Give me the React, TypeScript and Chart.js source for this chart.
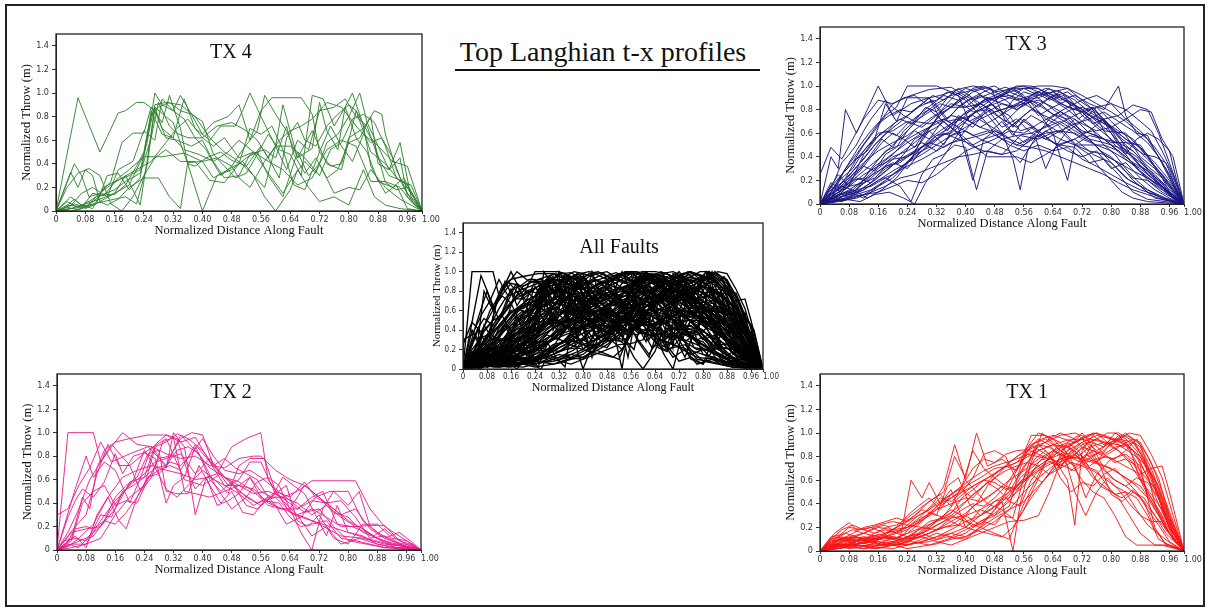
import React, { useEffect, useRef } from "react";
import { Chart, registerables } from "chart.js";

Chart.register(...registerables);

// ---------- axes ----------
const X_TICKS = [0, 0.08, 0.16, 0.24, 0.32, 0.4, 0.48, 0.56, 0.64, 0.72, 0.8, 0.88, 0.96, 1];
const X_TICK_LABELS = ["0", "0.08", "0.16", "0.24", "0.32", "0.40", "0.48", "0.56", "0.64", "0.72", "0.80", "0.88", "0.96", "1.00"];
const Y_TICKS = [0, 0.2, 0.4, 0.6, 0.8, 1.0, 1.2, 1.4];
const Y_TICK_LABELS = ["0", "0.2", "0.4", "0.6", "0.8", "1.0", "1.2", "1.4"];
const X_RANGE = [0, 1];
const Y_RANGE = [0, 1.5];

const MAIN_TITLE = "Top Langhian t-x profiles";
const X_TITLE = "Normalized Distance Along Fault";
const Y_TITLE = "Normalized Throw (m)";

// ---------- data: each profile = [x0, y0, x1, y1, ...] ----------
const TX4_PROFILES: number[][] = [
  [0,0,.06,.96,.12,.5,.14,.63,.17,.83,.19,.85,.22,.92,.24,.92,.27,.85,.3,.62,.33,.6,.37,.55,.4,.6,.43,.42,.47,.5,.5,.6,.54,.5,.58,.42,.62,.35,.66,.22,.7,.28,.74,.52,.78,.6,.82,.55,.86,.25,.9,.25,.94,.2,.97,.08,1,0],
  [0,0,.04,.33,.06,.2,.08,.35,.1,.3,.12,.08,.16,.15,.19,.3,.21,.18,.23,.05,.25,.45,.27,.88,.29,.7,.32,.62,.35,.95,.38,.7,.42,.6,.45,.72,.49,.72,.51,.85,.53,1,.56,.8,.6,.55,.62,.9,.66,.45,.7,.68,.74,.4,.78,.35,.82,.85,.86,.5,.9,.4,.94,.25,.97,.22,1,0],
  [0,0,.05,.06,.08,.03,.11,.12,.14,.14,.16,.14,.19,.22,.22,.38,.24,.5,.26,.82,.28,.88,.31,.92,.34,.85,.37,.82,.4,.65,.43,.75,.47,.8,.5,.9,.53,.6,.56,.85,.59,.96,.64,.96,.67,.96,.7,.82,.72,.5,.75,.38,.78,.4,.8,.62,.84,.7,.87,.85,.89,.82,.9,.65,.93,.35,.96,.15,1,0],
  [0,0,.04,.02,.07,.03,.1,.15,.13,.13,.17,.28,.2,.35,.24,.46,.29,.46,.35,.49,.4,.42,.44,.45,.48,.38,.5,.28,.53,.2,.57,.42,.6,.55,.63,.35,.66,.6,.69,.52,.72,.85,.76,.88,.79,.95,.82,.8,.85,.72,.88,.45,.91,.3,.95,.25,1,0],
  [0,0,.03,.03,.06,.01,.09,.04,.12,.08,.14,.05,.17,.1,.2,.2,.24,.28,.28,.28,.31,.12,.34,.02,.36,.41,.4,.42,.43,.28,.47,.35,.51,.42,.54,.3,.57,.12,.6,0,.64,.18,.66,.35,.69,.2,.72,.08,.76,.12,.8,.05,.84,.35,.87,.12,.9,.05,.94,.02,1,0],
  [0,0,.05,.4,.07,.3,.09,.12,.12,.15,.15,.25,.18,.58,.21,.66,.24,.66,.26,.88,.29,.75,.31,.98,.34,.7,.36,.4,.38,.38,.41,.45,.45,.5,.48,.43,.52,.38,.56,.55,.58,.45,.61,.28,.63,.62,.66,.75,.68,.6,.71,.55,.74,.72,.77,.82,.8,.9,.82,.85,.86,.62,.88,.55,.92,.42,.96,.38,1,0],
  [0,0,.03,.05,.06,.04,.09,.05,.12,.13,.16,.18,.19,.25,.23,.32,.26,.62,.28,.92,.31,.72,.33,.66,.36,.62,.4,.62,.43,.55,.46,.62,.5,.45,.54,.5,.58,.32,.62,.15,.65,.3,.68,.42,.71,.32,.74,.58,.77,.65,.8,.8,.83,1,.85,.75,.88,.55,.91,.35,.94,.45,.96,.12,1,0],
  [0,0,.04,.12,.07,.05,.1,.02,.13,.2,.16,.25,.2,.3,.23,.35,.25,.6,.27,1,.29,.9,.32,.85,.35,.78,.38,.62,.41,.52,.45,.3,.48,.38,.51,.52,.55,.68,.57,.98,.6,.82,.63,.68,.66,.45,.7,.53,.72,.92,.74,.68,.77,.52,.79,.88,.82,.62,.85,.5,.88,.25,.92,.2,.95,.28,1,0],
  [0,0,.03,.01,.07,.15,.1,.2,.14,.12,.17,.35,.21,.42,.24,.68,.27,.6,.29,.95,.32,.85,.34,.98,.37,.82,.4,.76,.43,.48,.46,.38,.49,.28,.52,.32,.55,.48,.58,.65,.61,.52,.64,.48,.67,.3,.7,.98,.73,.95,.76,.72,.79,.88,.81,1,.84,.72,.86,.38,.9,.15,.93,.22,.96,.02,1,0],
  [0,0,.02,.02,.05,.1,.08,.02,.11,.06,.14,.3,.17,.32,.2,.18,.23,.28,.26,.85,.29,.65,.32,.62,.35,.52,.39,.48,.43,.42,.46,.28,.5,.3,.53,.48,.57,.52,.6,.45,.63,.72,.65,.48,.68,.32,.71,.45,.74,.28,.77,.35,.8,.58,.83,.62,.86,.8,.88,.4,.91,.35,.94,.58,.97,.12,1,0],
  [0,0,.03,.2,.06,.32,.09,.36,.12,.3,.15,.06,.18,0,.21,.12,.24,.3,.27,.45,.3,.52,.34,.42,.38,.42,.42,.26,.46,.24,.5,.4,.53,.7,.56,.65,.59,.72,.62,.52,.65,.22,.68,.18,.72,.5,.75,.72,.78,.55,.81,.42,.84,.65,.87,.58,.9,.24,.93,.18,.96,.2,1,0],
  [0,0,.04,.02,.08,.06,.12,.1,.16,.15,.2,.22,.24,.48,.27,.9,.3,.92,.34,.9,.38,.8,.42,.62,.46,.5,.5,.42,.54,.3,.57,.2,.6,.55,.64,.55,.68,.45,.72,.3,.75,.52,.78,.58,.81,.78,.84,.82,.87,.75,.9,.55,.93,.28,.96,.22,1,0],
  [0,0,.03,.08,.06,.03,.1,.1,.14,.2,.18,.28,.22,.35,.26,.42,.3,.58,.33,.7,.36,.78,.4,.62,.44,.72,.48,.75,.52,.68,.55,.6,.58,.45,.61,.6,.64,.68,.67,.72,.7,.78,.74,.92,.78,.88,.82,.72,.86,.58,.89,.62,.92,.45,.95,.2,.98,.05,1,0],
  [0,0,.05,0,.09,.05,.13,.08,.16,.1,.19,.12,.22,.06,.25,.4,.27,.88,.3,.8,.32,.75,.36,.4,.4,0,.44,.3,.48,.35,.52,.45,.55,.5,.58,.3,.62,.12,.66,.5,.69,.3,.72,.4,.76,.15,.8,.2,.83,.18,.86,.35,.9,.2,.94,.1,1,0],
];

const TX3_PROFILES: number[][] = [
  [0,0,.03,.4,.05,.3,.07,.8,.1,.6,.13,.8,.16,1,.2,.75,.25,.85,.3,.9,.35,.7,.42,.75,.5,.6,.58,.8,.65,.7,.72,.55,.8,.45,.88,.3,.94,.15,1,0],
  [0,.25,.03,.48,.06,.38,.09,.55,.12,.72,.16,.88,.2,.85,.25,.92,.3,.97,.36,.99,.42,.88,.48,.95,.54,.98,.6,.98,.66,.85,.72,.78,.78,.62,.84,.6,.9,.4,.95,.2,1,0],
  [0,0,.04,.1,.08,.18,.12,.28,.16,.38,.2,.5,.24,.62,.28,.75,.32,.85,.36,.92,.4,.95,.44,.98,.48,.92,.52,.98,.56,1,.6,.95,.64,.9,.68,.82,.72,.78,.76,.65,.8,.55,.84,.45,.88,.32,.92,.2,.96,.08,1,0],
  [0,0,.05,.05,.1,.12,.14,.3,.18,.45,.22,.5,.26,.62,.3,.55,.34,.72,.38,.65,.42,.2,.45,.55,.5,.6,.55,.72,.6,.62,.65,.5,.7,.55,.75,.42,.8,.35,.85,.2,.9,.12,.95,.05,1,0],
  [0,0,.03,.12,.07,.2,.11,.35,.15,.5,.19,.62,.23,.72,.27,.82,.31,.88,.35,.72,.39,.85,.43,.92,.47,.98,.51,.7,.55,.82,.59,.95,.63,.88,.67,.92,.71,.72,.75,.82,.79,.68,.83,.48,.87,.4,.91,.25,.95,.12,1,0],
  [0,0,.04,.02,.08,.05,.12,.08,.16,.15,.2,.25,.24,.35,.28,.48,.32,.58,.36,.65,.4,.78,.44,.85,.48,.9,.52,.95,.56,.98,.6,.92,.64,.95,.68,.88,.72,.8,.76,.72,.8,.65,.84,.55,.88,.48,.92,.35,.96,.2,1,0],
  [0,0,.05,.25,.08,.15,.12,.42,.15,.55,.18,.85,.21,.7,.24,.9,.3,.9,.33,.72,.37,.62,.41,.5,.45,.45,.5,.42,.55,.58,.6,.55,.65,.62,.7,.6,.75,.52,.8,.35,.84,.22,.88,.15,.92,.05,1,0],
  [0,0,.04,.18,.08,.32,.12,.45,.16,.6,.2,.62,.24,.7,.28,.65,.32,.75,.36,.82,.4,.82,.44,.85,.48,.78,.52,.82,.56,.88,.6,.86,.64,.76,.68,.72,.72,.62,.76,.58,.8,.52,.84,.52,.88,.5,.92,.32,.96,.18,1,0],
  [0,0,.03,.05,.06,.08,.09,.1,.12,.18,.15,.22,.18,.3,.21,.35,.24,.4,.27,.45,.3,.55,.33,.62,.36,.68,.39,.72,.42,.82,.45,.88,.48,.9,.51,.95,.54,1,.58,1,.62,.95,.66,.9,.7,.82,.74,.75,.78,.68,.82,.6,.86,.5,.9,.38,.94,.25,.97,.12,1,0],
  [0,0,.03,.02,.07,.05,.11,.12,.15,.2,.19,.3,.23,.42,.26,.55,.29,.6,.32,.72,.35,.8,.38,.88,.41,.92,.44,.85,.47,.8,.5,.72,.53,.6,.56,.52,.59,.58,.62,.3,.65,.5,.68,.62,.72,.7,.76,.82,.8,.7,.84,.58,.88,.4,.92,.3,.96,.15,1,0],
  [0,0,.02,.05,.05,.2,.08,.35,.11,.5,.14,.62,.17,.72,.2,.85,.23,.9,.26,.92,.29,.85,.32,.88,.35,.95,.38,.92,.41,.7,.44,.75,.47,.85,.5,.92,.53,.98,.56,.92,.59,.82,.62,.72,.65,.68,.68,.58,.71,.48,.74,.42,.77,.3,.8,.2,.83,.1,.86,.05,.9,.02,.95,.01,1,0],
  [0,0,.04,.08,.08,.15,.12,.25,.16,.32,.2,.38,.24,.4,.28,.48,.32,.55,.36,.62,.4,.72,.44,.8,.48,.85,.52,.9,.56,.98,.6,1,.64,1,.68,.98,.72,.92,.76,.85,.8,.78,.84,.7,.87,.62,.9,.55,.93,.4,.96,.22,1,0],
  [0,0,.03,.1,.06,.25,.09,.35,.12,.5,.15,.62,.18,.75,.21,.82,.24,1,.27,1,.32,1,.36,.95,.4,.88,.44,.75,.48,.6,.52,.5,.56,.45,.6,.5,.64,.45,.68,.48,.72,.38,.76,.32,.8,.25,.84,.18,.88,.12,.92,.08,.96,.03,1,0],
  [0,0,.04,.05,.08,.12,.12,.2,.16,.28,.2,.35,.24,.3,.27,.42,.3,.5,.33,.58,.36,.68,.39,.75,.42,.8,.45,.88,.48,.92,.51,.88,.54,.8,.57,.85,.6,.92,.63,.98,.66,.9,.69,.85,.72,.8,.75,.82,.78,.7,.81,.6,.84,.5,.87,.42,.9,.3,.93,.2,.96,.1,1,0],
  [0,0,.02,.02,.05,.08,.09,.12,.13,.05,.17,.12,.21,.22,.25,.38,.28,.55,.31,.68,.34,.82,.37,.92,.4,.98,.43,.95,.46,.88,.49,.8,.52,.75,.55,.62,.58,.65,.62,.55,.66,.5,.7,.48,.74,.35,.78,.38,.82,.25,.86,.1,.9,.04,.95,.02,1,0],
  [0,0,.03,.15,.06,.1,.1,.22,.14,.18,.18,.32,.22,.35,.26,.45,.3,.62,.34,.5,.38,.72,.42,.65,.46,.8,.5,.72,.54,.65,.58,.75,.62,.68,.66,.6,.7,.72,.74,.6,.78,.55,.82,.52,.86,.45,.9,.32,.94,.22,.97,.05,1,0],
  [0,0,.03,.05,.06,.12,.09,.25,.12,.32,.15,.28,.18,.42,.21,.48,.24,.62,.27,.72,.3,.78,.33,.85,.36,.82,.39,.9,.42,.98,.45,1,.48,.96,.51,.99,.54,.95,.57,.88,.6,.82,.63,.9,.66,.95,.69,.88,.72,.75,.75,.68,.78,.72,.81,.62,.84,.48,.87,.35,.9,.28,.93,.18,.96,.08,1,0],
  [0,0,.04,.02,.08,.1,.12,.05,.16,.15,.2,.22,.24,.35,.28,.45,.32,.58,.36,.6,.4,.7,.44,.82,.48,.9,.52,.92,.56,.88,.6,.9,.64,.95,.68,.98,.72,.88,.76,.92,.8,.85,.84,.72,.88,.62,.92,.48,.96,.3,1,0],
  [0,0,.03,.08,.07,.22,.1,.38,.13,.45,.16,.58,.19,.65,.22,.72,.25,.68,.28,.78,.31,.85,.34,.92,.38,.88,.42,.78,.46,.8,.5,.65,.54,.72,.58,.6,.62,.55,.66,.62,.7,.5,.74,.45,.78,.42,.82,.35,.86,.28,.9,.22,.94,.15,.97,.08,1,0],
  [0,0,.04,.05,.08,.08,.12,.12,.16,.2,.2,.25,.24,.32,.28,.38,.32,.45,.36,.52,.4,.55,.44,.58,.48,.62,.52,.55,.56,.5,.6,.58,.64,.65,.68,.72,.72,.78,.76,.82,.8,.85,.84,.8,.88,.7,.91,.62,.94,.45,.97,.25,1,0],
  [0,0,.02,.03,.05,.1,.08,.18,.11,.3,.14,.42,.17,.55,.2,.48,.23,.62,.26,.7,.29,.82,.32,.78,.35,.9,.38,.98,.41,.92,.44,.82,.47,.72,.5,.6,.53,.38,.55,.12,.57,.45,.6,.6,.63,.72,.66,.78,.69,.72,.72,.6,.75,.62,.78,.5,.81,.42,.84,.3,.87,.2,.9,.12,.94,.05,1,0],
  [0,0,.03,.02,.07,.04,.11,.02,.15,.08,.19,.1,.23,.05,.26,0,.29,.18,.32,.32,.35,.45,.38,.6,.41,.75,.44,.8,.47,.85,.5,.75,.53,.88,.56,.95,.59,.92,.62,.85,.65,.78,.68,.7,.71,.62,.74,.55,.77,.45,.8,.4,.83,.3,.86,.22,.9,.2,.94,.12,.97,.05,1,0],
  [0,0,.04,.1,.08,.2,.11,.28,.14,.4,.17,.52,.2,.6,.23,.55,.26,.48,.29,.62,.32,.7,.35,.62,.38,.75,.41,.7,.44,.65,.47,.62,.5,.7,.53,.58,.56,.72,.6,.62,.64,.52,.68,.45,.72,.4,.76,.45,.8,.3,.84,.35,.88,.22,.92,.12,.96,.05,1,0],
  [0,0,.03,.05,.06,.02,.1,.08,.14,.12,.18,.2,.22,.3,.26,.42,.3,.48,.34,.6,.38,.55,.42,.7,.46,.78,.5,.85,.54,.82,.58,.9,.62,.95,.66,.88,.7,.92,.74,.85,.78,.8,.82,1,.84,.75,.87,.6,.9,.58,.92,.45,.95,.3,.98,.1,1,0],
  [0,0,.04,.1,.08,.22,.12,.35,.16,.45,.2,.52,.24,.58,.27,.65,.3,.72,.33,.78,.36,.85,.4,.82,.44,.92,.48,.88,.52,.95,.56,.9,.6,.75,.64,.82,.68,.88,.72,.8,.76,.7,.8,.6,.84,.45,.88,.35,.92,.25,.96,.12,1,0],
  [0,0,.02,.04,.05,.1,.08,.05,.11,.15,.14,.22,.17,.3,.2,.38,.23,.45,.26,.52,.29,.6,.32,.65,.35,.72,.38,.82,.41,.88,.44,.92,.47,.85,.5,.78,.53,.65,.56,.75,.59,.82,.62,.88,.65,.92,.68,.95,.71,.88,.74,.82,.77,.75,.8,.65,.83,.55,.86,.48,.89,.42,.92,.4,.95,.35,.98,.12,1,0],
  [0,0,.04,.05,.08,.15,.12,.18,.16,.3,.2,.4,.24,.45,.28,.52,.32,.45,.36,.58,.4,.62,.44,.55,.48,.5,.52,.45,.55,.35,.58,.5,.62,.62,.66,.55,.7,.5,.74,.5,.78,.5,.82,.45,.86,.35,.9,.2,.94,.1,.97,.05,1,0],
  [0,0,.03,.02,.06,.06,.1,.1,.14,.18,.18,.28,.22,.38,.26,.45,.3,.52,.34,.48,.38,.55,.42,.5,.46,.4,.5,.4,.54,.4,.58,.35,.62,.42,.66,.5,.7,.55,.74,.62,.78,.72,.82,.75,.86,.84,.9,.8,.93,.6,.96,.35,1,0],
  [0,0,.03,.18,.06,.12,.09,.2,.12,.22,.15,.32,.18,.38,.21,.45,.24,.52,.27,.58,.3,.65,.33,.75,.36,.82,.39,.88,.42,.95,.45,.98,.48,1,.52,.92,.56,.85,.6,.78,.64,.6,.68,.2,.7,.5,.74,.58,.78,.55,.82,.45,.86,.35,.9,.28,.94,.18,.97,.05,1,0],
  [0,0,.04,.12,.07,.3,.1,.42,.13,.55,.16,.68,.19,.75,.22,.8,.25,.78,.28,.85,.31,.92,.34,.88,.37,.95,.4,.9,.43,.82,.46,.9,.5,.85,.54,.8,.58,.88,.62,.8,.66,.72,.7,.65,.74,.55,.78,.42,.82,.35,.86,.2,.9,.1,.94,.05,1,0],
  [0,0,.05,.08,.1,.12,.14,.15,.18,.22,.22,.15,.25,.02,.28,.25,.31,.38,.34,.42,.37,.5,.4,.48,.43,.12,.46,.45,.5,.55,.54,.58,.58,.6,.62,.65,.66,.7,.7,.62,.74,.55,.78,.52,.82,.48,.86,.4,.9,.25,.94,.15,.97,.06,1,0],
  [0,0,.03,.05,.06,.18,.09,.28,.12,.38,.15,.5,.18,.6,.21,.7,.24,.75,.27,.82,.3,.9,.33,.92,.36,.95,.39,.98,.42,1,.46,.98,.5,.92,.54,.88,.58,.92,.62,.98,.66,.95,.7,.88,.74,.78,.78,.7,.82,.62,.86,.55,.9,.4,.94,.22,.97,.1,1,0],
  [0,0,.04,.02,.08,.04,.12,.08,.16,.1,.2,.15,.24,.2,.28,.18,.32,.25,.36,.35,.4,.45,.44,.5,.48,.55,.52,.62,.56,.6,.6,.68,.64,.75,.68,.82,.72,.88,.75,.8,.78,.62,.81,.5,.84,.42,.87,.55,.9,.6,.93,.55,.96,.45,.98,.2,1,0],
  [0,0,.03,.1,.06,.22,.09,.3,.12,.45,.15,.55,.18,.62,.21,.58,.24,.68,.27,.75,.3,.8,.33,.72,.36,.65,.39,.58,.42,.5,.45,.55,.48,.62,.51,.58,.54,.5,.57,.55,.6,.62,.63,.68,.66,.75,.69,.8,.72,.82,.75,.78,.78,.7,.81,.55,.84,.42,.87,.3,.9,.22,.93,.15,.96,.08,1,0],
  [0,0,.05,.02,.1,.05,.14,.1,.18,.15,.22,.22,.26,.25,.3,.3,.34,.35,.38,.4,.42,.42,.46,.45,.5,.42,.54,.45,.58,.55,.62,.6,.66,.62,.7,.68,.74,.72,.78,.78,.82,.7,.86,.62,.9,.52,.93,.4,.96,.25,1,0],
  [0,0,.03,.08,.06,.15,.09,.12,.12,.2,.16,.32,.2,.42,.24,.55,.28,.62,.32,.68,.36,.75,.4,.72,.44,.65,.48,.72,.52,.8,.56,.88,.6,.95,.64,.88,.68,.8,.72,.7,.76,.6,.8,.5,.84,.38,.88,.28,.92,.18,.96,.1,1,0],
  [0,0,.04,.03,.08,.06,.12,.12,.16,.2,.2,.28,.24,.35,.28,.42,.32,.5,.36,.58,.4,.65,.44,.72,.48,.78,.52,.82,.56,.85,.6,.88,.64,.82,.68,.75,.72,.68,.76,.62,.8,.65,.84,.72,.88,.8,.91,.78,.94,.55,.97,.4,1,0],
  [0,0,.02,.1,.04,.2,.06,.35,.08,.42,.1,.5,.12,.62,.14,.72,.16,.8,.18,.88,.2,.82,.23,.75,.26,.7,.3,.68,.34,.72,.38,.65,.42,.58,.46,.62,.5,.55,.54,.5,.58,.48,.62,.45,.66,.4,.7,.35,.74,.3,.78,.25,.82,.18,.86,.12,.9,.08,.94,.04,1,0],
];

const TX2_PROFILES: number[][] = [
  [0,0,.03,1,.1,1,.12,.75,.15,.9,.2,.72,.25,.85,.3,.95,.35,.6,.4,.55,.45,.65,.5,.5,.55,.4,.6,.45,.65,.3,.7,.25,.75,.2,.8,.15,.85,.1,.9,.06,.95,.03,1,0],
  [0,.3,.03,.35,.06,.55,.09,.7,.12,.92,.15,.75,.2,.82,.25,.88,.3,.72,.34,.98,.38,.85,.42,.7,.47,.6,.52,.45,.56,.38,.6,.5,.64,.32,.68,.28,.72,.22,.78,.12,.84,.1,.9,.05,.96,.03,1,0],
  [0,0,.04,.1,.07,.45,.09,.35,.11,.7,.13,.85,.16,.92,.2,.95,.25,.98,.3,.98,.34,.92,.38,.96,.42,.75,.46,.55,.5,.55,.54,.48,.58,.5,.62,.45,.66,.5,.7,.59,.78,.59,.82,.59,.86,.35,.9,.2,.95,.1,1,0],
  [0,0,.05,.52,.08,.8,.1,.62,.13,.75,.16,.68,.2,.4,.23,.62,.26,.88,.3,.7,.32,1,.35,.88,.38,.3,.41,.62,.44,.65,.48,.88,.52,.95,.56,1,.58,.6,.62,.42,.66,.3,.7,.12,.74,.2,.78,.05,.83,.1,.88,.05,.94,.02,1,0],
  [0,0,.04,.05,.08,.05,.12,.25,.16,.42,.2,.55,.24,.65,.27,.75,.3,.78,.34,.82,.38,.65,.42,.78,.46,.62,.5,.58,.54,.5,.58,.38,.62,.35,.66,.3,.7,.35,.74,.28,.78,.2,.83,.2,.87,.12,.9,.18,.93,.1,.96,.05,1,0],
  [0,0,.05,.2,.08,.3,.11,.65,.14,.9,.17,.72,.2,.72,.23,.5,.26,.62,.29,.92,.32,.96,.35,.5,.38,.48,.42,.45,.46,.5,.5,.55,.53,.62,.56,.45,.6,.38,.63,.22,.67,.28,.71,.45,.75,.5,.8,.5,.84,.25,.88,.15,.92,.08,.96,.03,1,0],
  [0,0,.05,.12,.08,.02,.11,.3,.14,.45,.17,.25,.19,.18,.22,.45,.25,.62,.28,.65,.31,.75,.34,.72,.37,.82,.4,.95,.43,.8,.46,.68,.5,.65,.53,.68,.56,.62,.6,.52,.64,.42,.68,.32,.72,.35,.76,.2,.8,.08,.85,.05,.9,.02,.95,.01,1,0],
  [0,0,.04,.15,.08,.18,.12,.2,.16,.35,.2,.58,.24,.62,.27,.7,.3,.72,.33,.85,.36,.88,.39,.82,.42,.6,.45,.5,.48,.58,.52,.38,.55,.35,.6,.48,.63,.55,.66,.25,.69,.2,.72,.3,.76,.1,.8,.05,.84,.22,.88,.22,.92,.1,.96,.08,1,0],
  [0,0,.03,.28,.05,.42,.07,.52,.1,.45,.13,.58,.16,.82,.18,.65,.21,.8,.24,.83,.27,.78,.3,.4,.32,.55,.35,.62,.38,.88,.41,.7,.44,.52,.48,.35,.52,.45,.55,.58,.58,.62,.61,.55,.64,.35,.67,.15,.7,0,.73,.35,.76,.5,.8,.38,.83,.5,.86,.2,.9,.1,.94,.05,1,0],
  [0,0,.04,.02,.08,.05,.12,.1,.16,.3,.2,.45,.24,.55,.27,.88,.3,.92,.33,.99,.36,.95,.4,.85,.44,.68,.47,.55,.5,.6,.53,.75,.56,.75,.6,.48,.63,.42,.66,.35,.7,.45,.73,.5,.77,.22,.81,.2,.85,.15,.89,.08,.93,.02,.97,.02,1,0],
  [0,0,.03,.05,.06,.02,.09,.12,.12,.3,.15,.28,.18,.5,.21,.55,.24,.62,.27,.9,.3,.98,.33,.95,.36,.65,.38,.52,.41,.62,.44,.38,.47,.42,.5,.48,.53,.62,.56,.5,.59,.45,.62,.62,.65,.55,.68,.48,.71,.3,.74,.12,.77,.38,.8,.15,.84,.12,.88,.05,.92,.02,.96,0,1,0],
  [0,0,.04,.08,.07,.4,.1,.5,.13,.55,.16,.38,.19,.42,.22,.4,.25,.6,.28,.78,.31,.8,.34,.95,.37,1,.4,.98,.43,.72,.46,.78,.49,.7,.52,.65,.55,.6,.58,.45,.61,.35,.64,.35,.68,.55,.72,.45,.76,.32,.8,.28,.84,.15,.88,.1,.92,.05,.96,.03,1,0],
  [0,0,.02,.08,.05,.1,.08,.08,.1,.12,.13,.25,.16,.45,.19,.55,.22,.62,.25,.82,.28,.85,.3,.5,.33,.48,.36,.48,.39,.72,.42,.55,.45,.4,.48,.5,.51,.32,.54,.3,.57,.42,.61,.4,.64,.28,.67,.2,.7,.22,.74,.25,.78,.1,.82,.08,.86,.05,.9,.02,.95,.02,1,0],
  [0,0,.03,.15,.06,.35,.09,.6,.12,.75,.15,.88,.18,1,.22,.9,.26,.88,.3,.82,.34,.78,.38,.8,.42,.72,.46,.7,.5,.78,.54,.8,.56,.8,.6,.68,.64,.6,.68,.55,.72,.45,.76,.35,.8,.25,.84,.18,.88,.1,.92,.06,.96,.03,1,0],
  [0,0,.03,.03,.06,.1,.1,.22,.14,.45,.18,.62,.22,.68,.26,.72,.3,.68,.34,.65,.38,.6,.42,.62,.46,.55,.5,.48,.54,.38,.58,.45,.62,.45,.66,.4,.7,.3,.74,.38,.78,.28,.82,.2,.86,.21,.9,.21,.94,.08,.97,.05,1,0],
  [0,0,.02,.03,.05,.18,.08,.2,.1,.18,.13,.25,.16,.22,.19,.32,.22,.45,.25,.62,.28,.68,.31,.72,.34,.68,.38,.9,.42,.75,.46,.62,.5,.55,.54,.52,.58,.4,.62,.35,.66,.35,.7,.42,.74,.4,.78,.3,.82,.35,.86,.18,.9,.1,.94,.15,.97,.08,1,0],
  [0,0,.04,.05,.08,.1,.12,.2,.15,.35,.18,.48,.21,.6,.24,.85,.27,.7,.3,.52,.33,.45,.36,.55,.4,.68,.44,.58,.47,.48,.5,.72,.53,.78,.57,.78,.6,.5,.64,.45,.68,.58,.71,.45,.74,.4,.78,.42,.82,.28,.86,.1,.9,.12,.94,.06,.97,.04,1,0],
];

const TX1_PROFILES: number[][] = [
  [0,0,.03,.08,.07,.12,.1,.08,.14,.05,.18,.05,.22,.1,.25,.6,.28,.45,.3,.58,.33,.4,.36,.52,.4,.2,.44,.35,.48,.3,.52,.45,.56,.55,.6,.75,.64,.85,.68,.9,.72,.95,.76,.85,.8,.92,.84,1,.88,.9,.92,.55,.96,.2,1,0],
  [0,0,.04,.15,.08,.24,.1,.18,.14,.2,.18,.15,.22,.22,.26,.3,.3,.42,.34,.5,.37,.8,.4,.62,.43,1,.46,.72,.5,.78,.54,.68,.58,.9,.62,.95,.66,.85,.7,.78,.74,.88,.78,.92,.82,.85,.86,.75,.9,.5,.94,.3,.97,.12,1,0],
  [0,0,.03,.05,.06,.1,.1,.06,.14,.08,.18,.05,.22,.05,.26,.12,.3,.2,.34,.3,.38,.45,.42,.55,.46,.62,.5,.7,.54,.75,.58,.88,.62,.92,.66,.98,.7,1,.74,.95,.78,.92,.82,.9,.86,.82,.9,.72,.93,.55,.96,.3,1,0],
  [0,0,.05,.02,.1,.05,.15,.02,.2,.05,.25,.08,.3,.05,.35,.1,.4,.15,.44,.25,.48,.3,.52,.38,.55,.7,.57,.88,.6,1,.64,.95,.68,.82,.72,.92,.76,.75,.8,.62,.84,.55,.88,.45,.92,.3,.96,.15,1,0],
  [0,0,.04,.12,.08,.1,.12,.15,.16,.2,.2,.18,.24,.2,.28,.3,.31,.4,.34,.55,.37,.9,.4,.6,.43,.5,.46,.4,.5,.35,.54,.25,.58,.45,.62,.62,.66,.78,.7,.82,.74,.72,.78,.8,.82,.88,.86,.95,.9,.7,.94,.4,.97,.15,1,0],
  [0,0,.03,.02,.06,.05,.1,.05,.14,.1,.18,.12,.22,.08,.26,.15,.3,.25,.34,.28,.38,.22,.42,.38,.46,.45,.5,.55,.53,.5,.56,.62,.59,.78,.62,.85,.65,.75,.68,.6,.7,.22,.72,.85,.75,.98,.78,.9,.82,.95,.86,.92,.89,.78,.92,.4,.95,.18,1,0],
  [0,0,.04,.05,.08,.08,.12,.1,.16,.12,.2,.1,.24,.15,.28,.25,.32,.38,.36,.48,.4,.55,.44,.62,.48,.7,.52,.72,.56,.78,.6,.85,.64,.9,.68,.88,.72,.8,.76,.75,.8,.7,.84,.62,.88,.55,.92,.38,.96,.15,1,0],
  [0,0,.05,.05,.1,.08,.15,.1,.2,.12,.24,.1,.28,.12,.32,.08,.36,.05,.4,.1,.44,.2,.48,.35,.52,.55,.55,.75,.58,.98,.62,.98,.66,.92,.7,.72,.73,.45,.76,.65,.8,.78,.84,.82,.88,.72,.9,.45,.92,.2,.95,.05,1,0],
  [0,0,.03,.1,.06,.18,.09,.22,.12,.18,.15,.15,.18,.2,.21,.22,.24,.28,.27,.35,.3,.42,.33,.48,.36,.38,.39,.55,.42,.85,.45,.7,.48,.62,.51,.55,.54,.7,.57,.82,.6,.88,.63,.95,.66,1,.7,.95,.74,.8,.78,.85,.82,.98,.85,.88,.88,.6,.91,.42,.94,.25,.97,.1,1,0],
  [0,0,.04,.03,.08,.05,.12,.04,.16,.08,.2,.06,.24,.05,.28,.08,.32,.12,.36,.15,.4,.2,.44,.3,.48,.38,.52,.5,.56,.72,.6,.85,.64,.9,.68,.94,.72,.95,.76,1,.8,.95,.84,.9,.88,.8,.92,.6,.95,.35,.98,.12,1,0],
  [0,0,.03,.05,.06,.08,.09,.12,.12,.1,.15,.15,.18,.18,.21,.15,.24,.22,.27,.3,.3,.35,.33,.45,.36,.42,.39,.5,.42,.62,.45,.82,.48,.85,.51,.8,.54,.6,.57,.75,.6,.9,.63,.82,.66,.62,.69,.5,.72,.58,.75,.55,.78,.65,.81,.7,.84,.6,.87,.5,.9,.35,.93,.22,.96,.08,1,0],
  [0,0,.04,.08,.08,.12,.12,.15,.16,.12,.2,.1,.24,.15,.28,.2,.32,.25,.36,.3,.4,.25,.44,.2,.48,.15,.52,.1,.56,.4,.6,.65,.63,.8,.66,.7,.69,.85,.72,.75,.75,.92,.78,.88,.81,1,.84,.95,.87,.85,.9,.68,.93,.45,.96,.2,1,0],
  [0,0,.02,.02,.05,.06,.08,.03,.11,.05,.14,.03,.17,.06,.2,.05,.24,.08,.28,.12,.32,.18,.36,.22,.4,.3,.44,.35,.48,.42,.52,.5,.56,.6,.6,.68,.64,.75,.68,.8,.72,.9,.76,.95,.8,.9,.84,.98,.88,.92,.91,.75,.94,.5,.97,.25,1,0],
  [0,0,.03,.1,.06,.12,.09,.08,.12,.1,.15,.08,.18,.12,.21,.15,.24,.12,.27,.18,.3,.2,.33,.28,.36,.32,.39,.45,.42,.52,.45,.6,.48,.65,.51,.72,.54,.68,.57,.85,.6,.95,.63,.9,.66,.8,.69,.68,.72,.75,.75,.62,.78,.55,.81,.48,.84,.5,.87,.35,.9,.22,.94,.12,.97,.05,1,0],
  [0,0,.04,.05,.08,.02,.12,.04,.16,.02,.2,.05,.24,.02,.28,.04,.32,.06,.36,.1,.4,.12,.44,.18,.48,.25,.52,.35,.56,.5,.6,.62,.64,.72,.68,.85,.72,.92,.76,.98,.8,.95,.83,.88,.86,.92,.88,.85,.9,.72,.92,.58,.94,.35,.97,.12,1,0],
  [0,0,.03,.06,.06,.1,.09,.15,.12,.2,.15,.22,.18,.25,.21,.28,.24,.25,.27,.3,.3,.35,.33,.42,.36,.48,.39,.55,.42,.62,.45,.68,.48,.72,.51,.75,.54,.78,.57,.82,.6,.8,.63,.78,.66,.75,.69,.8,.72,.78,.75,.75,.78,.72,.81,.68,.84,.62,.87,.55,.9,.45,.93,.3,.96,.15,1,0],
  [0,0,.05,.1,.1,.12,.15,.08,.2,.18,.24,.25,.28,.35,.32,.3,.35,.55,.38,.62,.41,.4,.44,.3,.47,.35,.5,.42,.53,0,.55,.4,.58,.75,.61,1,.64,.92,.67,.82,.7,.5,.73,.3,.76,.5,.79,.62,.82,.52,.85,.4,.88,.3,.91,.25,.94,.25,.97,.1,1,0],
  [0,0,.04,.04,.08,.06,.12,.1,.16,.14,.2,.12,.24,.1,.28,.15,.32,.22,.36,.28,.4,.3,.44,.22,.48,.35,.52,.48,.56,.6,.6,.72,.63,.78,.66,.82,.69,.78,.72,.88,.75,.85,.78,.8,.81,.78,.84,.85,.87,.95,.9,.8,.93,.62,.96,.3,1,0],
  [0,0,.03,.02,.06,.04,.1,.08,.14,.12,.18,.15,.22,.18,.26,.22,.3,.3,.33,.38,.36,.45,.39,.5,.42,.55,.45,.6,.48,.58,.51,.52,.54,.55,.57,.65,.6,.72,.63,.78,.66,.85,.69,.9,.72,.95,.75,1,.78,.98,.81,.95,.84,.92,.87,.82,.9,.62,.93,.4,.96,.2,1,0],
  [0,0,.04,.1,.07,.15,.1,.12,.13,.08,.16,.06,.19,.1,.22,.12,.25,.2,.28,.26,.31,.32,.34,.28,.37,.35,.4,.42,.43,.5,.46,.58,.49,.52,.52,.42,.55,.38,.58,.6,.61,.72,.64,.82,.67,.9,.7,.85,.73,.72,.76,.68,.79,.55,.82,.45,.85,.3,.88,.15,.92,.05,.96,.05,1,0],
  [0,0,.05,.05,.1,.05,.15,.04,.2,.05,.25,.06,.3,.08,.35,.12,.4,.1,.44,.15,.48,.2,.52,.25,.56,.26,.6,.3,.63,.5,.66,.75,.69,.9,.72,1,.75,.88,.78,.7,.81,.6,.84,.55,.87,.62,.9,.58,.93,.45,.96,.25,1,0],
  [0,0,.03,.08,.06,.1,.09,.06,.12,.12,.15,.1,.18,.15,.21,.2,.24,.3,.27,.38,.3,.45,.33,.35,.36,.48,.39,.55,.42,.7,.45,.78,.48,.75,.51,.82,.54,.85,.57,.86,.6,.82,.63,.78,.66,.85,.69,.9,.72,.95,.75,.92,.78,.82,.81,.75,.84,.78,.87,.72,.9,.6,.93,.5,.96,.25,1,0],
  [0,0,.04,.06,.08,.05,.12,.02,.16,.05,.2,.08,.24,.05,.28,.1,.32,.15,.36,.12,.4,.18,.44,.25,.48,.32,.52,.42,.55,.55,.58,.65,.61,.58,.64,.7,.67,.78,.7,.72,.73,.82,.76,.75,.79,.88,.82,.95,.85,1,.88,.98,.91,.82,.94,.62,.97,.3,1,0],
  [0,0,.03,.12,.06,.14,.09,.18,.12,.15,.15,.2,.18,.22,.21,.15,.24,.18,.27,.25,.3,.32,.33,.4,.36,.45,.39,.52,.42,.45,.45,.55,.48,.62,.51,.68,.54,.72,.57,.75,.6,.72,.63,.65,.66,.7,.69,.75,.72,.72,.75,.68,.78,.62,.81,.55,.84,.5,.87,.45,.9,.3,.93,.1,.96,.05,1,0],
  [0,0,.04,.02,.08,.03,.12,.02,.16,.03,.2,.02,.24,.05,.28,.08,.32,.12,.36,.18,.4,.25,.44,.3,.48,.42,.52,.45,.55,.62,.58,.7,.61,.78,.64,.75,.67,.72,.7,.68,.73,.75,.76,.78,.79,.8,.82,.75,.85,.7,.88,.65,.91,.7,.94,.72,.96,.5,1,0],
  [0,0,.03,.04,.06,.08,.1,.1,.14,.08,.18,.12,.22,.1,.26,.12,.3,.18,.34,.25,.38,.35,.42,.48,.45,.55,.48,.65,.51,.72,.54,.8,.57,.85,.6,.9,.63,.88,.66,.82,.69,.75,.72,.6,.75,.5,.78,.45,.81,.3,.84,.12,.87,.05,.9,.05,.94,.05,1,0],
  [0,0,.04,.1,.08,.2,.12,.18,.16,.22,.2,.25,.24,.22,.28,.2,.32,.18,.36,.25,.4,.32,.43,.4,.46,.55,.49,.65,.52,.75,.55,.82,.58,.9,.61,.95,.64,.98,.67,.95,.7,.92,.73,.98,.76,1,.79,.92,.82,.85,.85,.75,.88,.6,.91,.48,.94,.35,.97,.15,1,0],
  [0,0,.03,.03,.06,.06,.09,.05,.12,.08,.15,.1,.18,.12,.21,.1,.24,.08,.27,.12,.3,.15,.33,.2,.36,.28,.39,.35,.42,.4,.45,.38,.48,.45,.51,.55,.54,.52,.57,.62,.6,.7,.63,.75,.66,.72,.69,.8,.72,.78,.75,.85,.78,.82,.81,.88,.84,.9,.87,.75,.9,.5,.93,.35,.96,.15,1,0],
  [0,0,.05,.02,.1,.06,.15,.08,.2,.06,.25,.1,.3,.15,.34,.2,.38,.22,.42,.18,.46,.15,.5,.12,.53,.2,.56,.35,.59,.55,.62,.75,.65,.88,.68,.92,.71,.98,.74,.88,.77,.72,.8,.48,.83,.42,.86,.5,.89,.45,.92,.3,.95,.15,1,0],
  [0,0,.04,.05,.08,.1,.12,.06,.16,.1,.2,.15,.24,.2,.28,.28,.32,.35,.36,.4,.4,.45,.44,.42,.48,.5,.52,.6,.56,.68,.6,.78,.64,.85,.68,.8,.72,.75,.76,.82,.8,.95,.83,.92,.86,.85,.89,.68,.92,.52,.95,.3,.98,.1,1,0],
  [0,0,.03,.05,.06,.03,.09,.06,.12,.04,.15,.06,.18,.05,.21,.08,.24,.12,.27,.15,.3,.22,.33,.28,.36,.35,.39,.3,.42,.2,.45,.25,.48,.22,.5,.3,.53,.28,.56,.62,.59,.88,.62,.82,.65,.75,.68,.92,.71,.85,.74,.7,.77,.55,.8,.5,.83,.45,.86,.52,.89,.42,.92,.18,.95,.06,1,0],
  [0,0,.04,.08,.08,.1,.12,.12,.16,.1,.2,.08,.24,.12,.28,.15,.32,.1,.36,.15,.4,.12,.44,.2,.48,.28,.52,.35,.56,.42,.6,.55,.64,.68,.67,.75,.7,.82,.73,.9,.76,.95,.79,1,.82,1,.85,.95,.88,.88,.91,.7,.94,.45,.97,.2,1,0],
];

const ALL_PROFILES: number[][] = [...TX4_PROFILES, ...TX3_PROFILES, ...TX2_PROFILES, ...TX1_PROFILES];

// ---------- panel ----------
type PanelSpec = {
  title: string;
  profiles: number[][];
  color: string;
  lineWidth: number;
  left: number; top: number; width: number; height: number; // plot area
  yAxisW: number;
  titleFrac: number;
  titleDy: number;
  titleSize: number;
  tickSize: number;
  axisTitleSizeX: number;
  axisTitleSizeY: number;
  xTitlePad: number;
  yTitlePad: number;
};

const PAD_TOP = 10;
const PAD_RIGHT = 24;
const X_AXIS_H = 30;
const TICK_FONT = '"Liberation Sans Narrow", "DejaVu Sans Condensed", "Liberation Sans", Arial, sans-serif';
const SERIF = '"Liberation Serif", "Times New Roman", serif';

function Panel({ spec }: { spec: PanelSpec }) {
  const ref = useRef<HTMLCanvasElement | null>(null);
  const cw = spec.yAxisW + spec.width + PAD_RIGHT;
  const ch = PAD_TOP + spec.height + X_AXIS_H;

  useEffect(() => {
    if (!ref.current) return;
    const datasets = spec.profiles.map((pr) => {
      const pts: { x: number; y: number }[] = [];
      for (let i = 0; i + 1 < pr.length; i += 2) pts.push({ x: pr[i], y: pr[i + 1] });
      return {
        data: pts,
        borderColor: spec.color,
        borderWidth: spec.lineWidth,
        pointRadius: 0,
        showLine: true,
        fill: false,
        tension: 0,
      };
    });

    const decor = {
      id: "decor",
      afterDatasetsDraw(chart: any) {
        const { ctx, chartArea: a } = chart;
        ctx.save();
        ctx.strokeStyle = "#222";
        ctx.lineWidth = 1.3;
        ctx.strokeRect(a.left, a.top, a.right - a.left, a.bottom - a.top);
        ctx.fillStyle = "#111";
        ctx.font = `${spec.titleSize}px ${SERIF}`;
        ctx.textAlign = "center";
        ctx.textBaseline = "middle";
        ctx.fillText(spec.title, a.left + spec.titleFrac * (a.right - a.left), a.top + spec.titleDy);
        ctx.restore();
      },
    };

    const chart = new Chart(ref.current, {
      type: "scatter",
      data: { datasets: datasets as any },
      options: {
        responsive: false,
        maintainAspectRatio: false,
        animation: false,
        events: [],
        layout: { padding: { top: PAD_TOP, right: PAD_RIGHT, left: 0, bottom: 0 } },
        plugins: { legend: { display: false }, tooltip: { enabled: false }, title: { display: false } },
        scales: {
          x: {
            type: "linear",
            min: X_RANGE[0],
            max: X_RANGE[1],
            afterBuildTicks: (s: any) => { s.ticks = X_TICKS.map((v) => ({ value: v })); },
            afterFit: (s: any) => { s.height = X_AXIS_H; },
            afterUpdate: (s: any) => {
              // the last label ("1.00") starts at its tick instead of being centred on it
              if (s.__lastLabelPatched) return;
              s.__lastLabelPatched = true;
              const orig = s._computeLabelItems.bind(s);
              s._computeLabelItems = (area: any) => {
                const items = orig(area);
                const last = items[items.length - 1];
                if (last && last.options) last.options.textAlign = "left";
                return items;
              };
              s._labelItems = null;
            },
            ticks: {
              autoSkip: false,
              maxRotation: 0,
              padding: 0,
              color: "#333",
              font: { family: TICK_FONT, size: spec.tickSize },
              callback: (_v: any, i: number) => X_TICK_LABELS[i],
            },
            grid: { display: true, drawOnChartArea: false, drawTicks: true, tickLength: 3, color: "#333" },
            border: { display: true, color: "#222" },
            title: {
              display: true,
              text: X_TITLE,
              color: "#111",
              font: { family: SERIF, size: spec.axisTitleSizeX, lineHeight: 1.2 },
              padding: { top: 0, bottom: spec.xTitlePad },
            },
          },
          y: {
            type: "linear",
            min: Y_RANGE[0],
            max: Y_RANGE[1],
            afterBuildTicks: (s: any) => { s.ticks = Y_TICKS.map((v) => ({ value: v })); },
            afterFit: (s: any) => { s.width = spec.yAxisW; },
            ticks: {
              autoSkip: false,
              padding: 3,
              color: "#333",
              font: { family: TICK_FONT, size: spec.tickSize },
              callback: (_v: any, i: number) => Y_TICK_LABELS[i],
            },
            grid: { display: true, drawOnChartArea: false, drawTicks: true, tickLength: 4, color: "#333" },
            border: { display: true, color: "#222" },
            title: {
              display: true,
              text: Y_TITLE,
              color: "#111",
              font: { family: SERIF, size: spec.axisTitleSizeY, lineHeight: 1.2 },
              padding: { top: spec.yTitlePad, bottom: 0 },
            },
          },
        },
      } as any,
      plugins: [decor],
    });
    return () => chart.destroy();
  }, []);

  return (
    <canvas
      ref={ref}
      width={cw}
      height={ch}
      style={{
        position: "absolute",
        left: spec.left - spec.yAxisW,
        top: spec.top - PAD_TOP,
        width: cw,
        height: ch,
      }}
    />
  );
}

const BIG = { yAxisW: 40, lineWidth: 1, titleSize: 20, tickSize: 9, axisTitleSizeX: 12.5, axisTitleSizeY: 12.5, xTitlePad: 2.5, yTitlePad: 3.5 };

const PANELS: PanelSpec[] = [
  { ...BIG, title: "TX 4", profiles: TX4_PROFILES, color: "rgba(46,128,46,0.92)", left: 56, top: 34, width: 366, height: 177, titleFrac: 0.478, titleDy: 18.5 },
  { ...BIG, title: "TX 3", profiles: TX3_PROFILES, color: "rgba(26,22,125,0.95)", left: 820, top: 27, width: 364, height: 177, titleFrac: 0.566, titleDy: 17.5 },
  { ...BIG, title: "TX 2", profiles: TX2_PROFILES, color: "rgba(230,28,140,0.92)", left: 57, top: 374, width: 364, height: 176, titleFrac: 0.478, titleDy: 19 },
  { ...BIG, title: "TX 1", profiles: TX1_PROFILES, color: "rgba(250,20,20,0.92)", left: 820, top: 374, width: 364, height: 177, titleFrac: 0.569, titleDy: 19 },
  {
    title: "All Faults", profiles: ALL_PROFILES, color: "rgba(0,0,0,1)", lineWidth: 1.35,
    left: 463, top: 223, width: 300, height: 146, yAxisW: 36,
    titleFrac: 0.52, titleDy: 25, titleSize: 20, tickSize: 8,
    axisTitleSizeX: 12, axisTitleSizeY: 11, xTitlePad: 3.8, yTitlePad: 3.4,
  },
];

export default function App() {
  return (
    <div style={{ position: "fixed", left: 0, top: 0, width: 1209, height: 608, background: "#fff", overflow: "hidden" }}>
      <div
        style={{
          position: "absolute", left: 5, top: 4, width: 1200, height: 603,
          boxSizing: "border-box", border: "2px solid #222",
        }}
      />
      <div
        style={{
          position: "absolute", left: 403, top: 38, width: 400, textAlign: "center",
          fontFamily: SERIF, fontSize: 28, lineHeight: "28px", color: "#111", whiteSpace: "nowrap",
        }}
      >
        {MAIN_TITLE}
      </div>
      <div style={{ position: "absolute", left: 455, top: 69, width: 305, height: 2, background: "#111" }} />
      {PANELS.map((p) => (
        <Panel key={p.title} spec={p} />
      ))}
    </div>
  );
}
